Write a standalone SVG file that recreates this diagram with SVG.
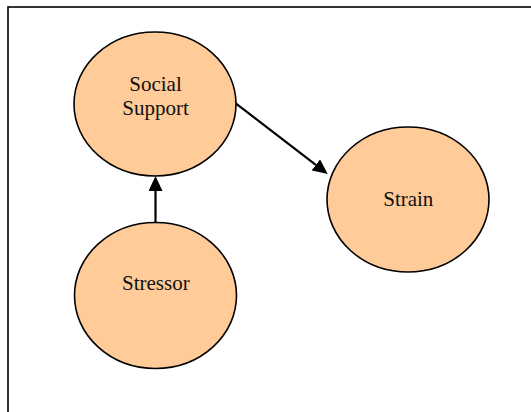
<svg xmlns="http://www.w3.org/2000/svg" width="531" height="412" viewBox="0 0 531 412">
<style>
.node ellipse{fill:#ffcc99;stroke:#000;stroke-width:1.6}
.node text{font-family:"Liberation Serif","Times New Roman",serif;font-size:21px;fill:#111;text-anchor:middle}
.edge{stroke:#000;stroke-width:2.2;fill:none}
</style>
<defs>
<marker id="ah" viewBox="0 0 15 14" refX="0" refY="7" markerWidth="15" markerHeight="14" markerUnits="userSpaceOnUse" orient="auto">
<path d="M0,0 L15,7 L0,14 Z" fill="#000"/>
</marker>
</defs>
<rect x="8" y="7" width="540" height="420" fill="#fff" stroke="#000" stroke-width="1.6"/>
<g id="connectors">
<path class="edge" d="M155.5,223 L155.5,191" marker-end="url(#ah)"/>
<path class="edge" d="M235.7,103.3 L315.8,164.9" marker-end="url(#ah)"/>
</g>
<g id="social-support" class="node">
<ellipse cx="155" cy="104" rx="81" ry="72"/>
<text x="155.5" y="91">Social</text>
<text x="155.5" y="115">Support</text>
</g>
<g id="strain" class="node">
<ellipse cx="408" cy="199.5" rx="81" ry="72.5"/>
<text x="408.3" y="205.5">Strain</text>
</g>
<g id="stressor" class="node">
<ellipse cx="155.5" cy="295.5" rx="81" ry="73"/>
<text x="155.8" y="290">Stressor</text>
</g>
</svg>
